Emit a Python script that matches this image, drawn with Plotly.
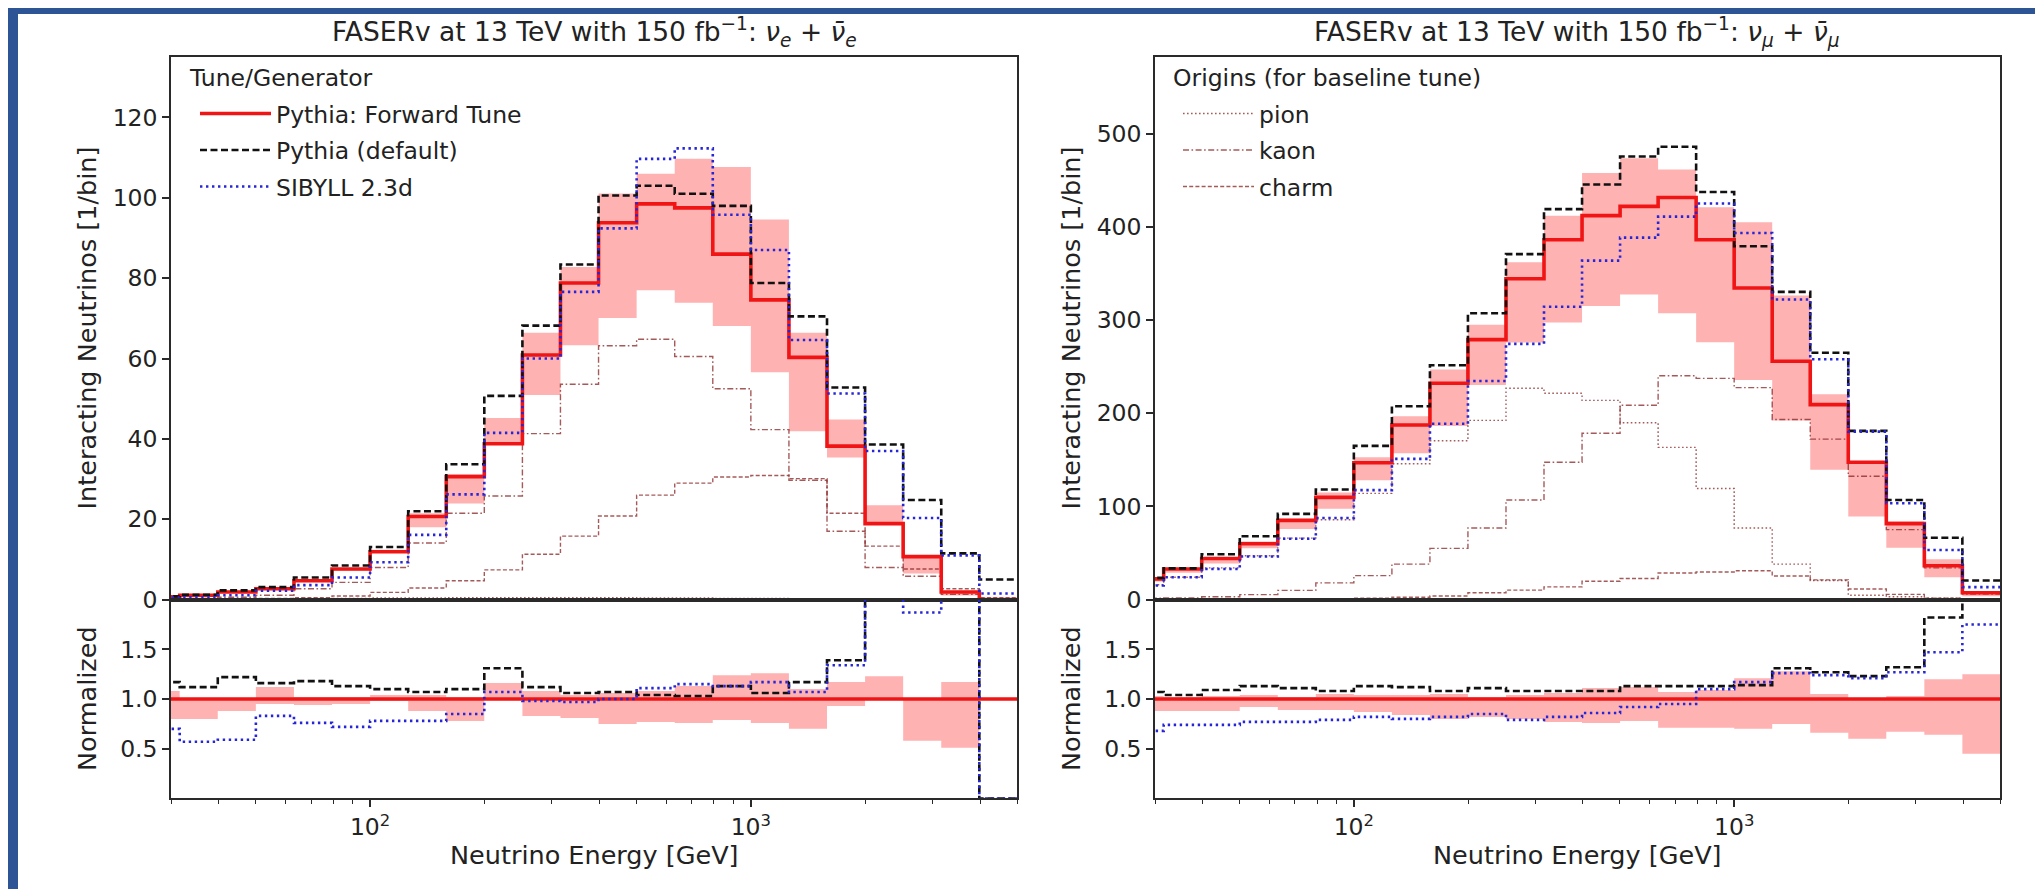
import numpy as np
import plotly.graph_objects as go

W, H = 2043, 895

# ---------------- data ----------------
# bin edges in GeV (10 log bins per decade)
energy_edges = [25.12, 31.62, 39.81, 50.12, 63.10, 79.43, 100.0, 125.9, 158.5, 199.5,
                251.2, 316.2, 398.1, 501.2, 631.0, 794.3, 1000.0, 1258.9, 1584.9, 1995.3,
                2511.9, 3162.3, 3981.1, 5011.9]

# ---- nu_e + nu_e-bar (left panel) ----
fwd_e = [0.7, 1.1, 1.9, 2.7, 4.7, 7.6, 11.9, 20.7, 30.6, 38.8, 60.9, 78.8, 93.8, 98.5, 97.5,
         86.0, 74.6, 60.3, 38.2, 18.9, 10.7, 1.9, 0.0]
default_e = [0.8, 1.2, 2.3, 3.1, 5.5, 8.5, 13.1, 22.0, 33.7, 50.7, 68.2, 83.4, 100.6, 103.0, 101.0,
             98.0, 78.8, 70.5, 52.8, 38.6, 24.8, 11.5, 5.0]
sibyll_e = [0.5, 0.6, 1.1, 2.2, 3.6, 5.5, 9.3, 16.1, 26.2, 41.5, 60.0, 76.6, 92.4, 109.7, 112.3,
            95.8, 87.0, 64.6, 51.3, 37.0, 20.3, 11.0, 1.5]
band_hi_e = [0.75, 1.1, 1.9, 3.0, 4.8, 7.8, 12.4, 21.5, 31.2, 45.2, 66.4, 82.8, 101.1, 106.0, 109.7,
             107.7, 94.6, 66.4, 44.8, 23.5, 10.7, 2.2, 0.0]
band_lo_e = [0.6, 0.9, 1.7, 2.6, 4.4, 7.2, 11.7, 18.0, 23.9, 38.8, 50.9, 63.3, 70.1, 77.0, 73.9,
             68.1, 56.6, 41.9, 35.4, 18.9, 6.5, 1.0, 0.0]
pion_e = [0.1, 0.1, 0.2, 0.2, 0.3, 0.3, 0.4, 0.4, 0.5, 0.5, 0.5, 0.5, 0.5, 0.4, 0.4,
          0.3, 0.3, 0.2, 0.2, 0.1, 0.1, 0.0, 0.0]
kaon_e = [0.2, 0.3, 0.6, 1.1, 2.7, 4.3, 8.0, 14.1, 21.5, 25.8, 41.3, 53.6, 63.2, 64.8, 60.5,
          52.5, 42.3, 29.7, 17.0, 8.0, 5.8, 1.3, 0.0]
charm_e = [0.1, 0.1, 0.2, 0.3, 0.5, 0.9, 1.8, 2.9, 4.7, 7.4, 11.3, 15.8, 20.8, 26.0, 29.0,
           30.5, 30.9, 30.1, 21.5, 13.3, 7.6, 2.7, 0.5]
ratio_default_e = [1.17, 1.12, 1.22, 1.16, 1.18, 1.13, 1.10, 1.07, 1.10, 1.31, 1.12, 1.06, 1.07, 1.04,
                   1.03, 1.13, 1.06, 1.17, 1.39, 2.04, 2.32, 6.05, 0.0]
ratio_sibyll_e = [0.70, 0.57, 0.59, 0.83, 0.76, 0.72, 0.78, 0.78, 0.85, 1.07, 0.98, 0.97, 1.00, 1.11,
                  1.15, 1.13, 1.17, 1.07, 1.34, 2.10, 1.87, 5.80, 0.0]
ratio_band_hi_e = [1.08, 1.00, 1.00, 1.12, 1.02, 1.02, 1.04, 1.04, 1.02, 1.16, 1.08, 1.04, 1.06, 1.08,
                   1.13, 1.24, 1.26, 1.10, 1.17, 1.23, 1.00, 1.17, 1.00]
ratio_band_lo_e = [0.80, 0.80, 0.88, 0.95, 0.94, 0.95, 0.98, 0.88, 0.78, 1.00, 0.83, 0.81, 0.75, 0.77,
                   0.76, 0.79, 0.76, 0.70, 0.93, 1.00, 0.58, 0.51, 1.00]

# ---- nu_mu + nu_mu-bar (right panel) ----
fwd_m = [22.2, 32.8, 44.1, 60.0, 85.0, 109.7, 146.8, 187.3, 232.1, 279.0, 344.3, 386.2, 412.0, 421.9,
         431.4, 386.2, 334.4, 255.7, 209.2, 147.4, 81.5, 36.3, 7.4]
default_m = [23.3, 33.5, 48.7, 68.0, 92.0, 118.2, 165.0, 207.4, 251.5, 307.2, 370.7, 419.0, 445.5, 475.5,
             486.0, 437.4, 379.2, 330.2, 264.9, 181.0, 106.9, 66.3, 20.5]
sibyll_m = [15.2, 24.0, 32.8, 46.2, 65.3, 87.5, 117.5, 151.0, 188.7, 234.6, 274.4, 314.3, 363.7, 388.4,
            411.0, 425.0, 393.3, 322.0, 257.9, 180.2, 103.4, 53.3, 13.4]
band_hi_m = [22.8, 33.5, 45.4, 62.4, 86.7, 115.0, 152.7, 196.8, 247.0, 295.0, 362.0, 412.0, 457.8, 473.7,
             461.4, 421.0, 405.0, 326.3, 220.4, 147.4, 84.0, 43.4, 9.3]
band_lo_m = [19.5, 28.9, 38.8, 55.2, 75.7, 97.6, 128.0, 157.0, 186.2, 230.3, 276.0, 297.4, 315.0, 327.3,
             307.2, 276.2, 235.6, 192.3, 139.3, 89.2, 55.7, 24.0, 3.5]
pion_m = [16.0, 24.0, 34.0, 47.0, 66.0, 85.7, 114.0, 145.7, 170.4, 192.3, 226.8, 221.5, 213.8, 189.8,
          163.3, 119.2, 76.9, 38.1, 20.5, 4.6, 3.0, 1.5, 0.5]
kaon_m = [1.5, 1.8, 3.0, 5.3, 9.9, 18.0, 25.7, 38.1, 55.0, 76.9, 106.9, 147.4, 178.5, 208.5,
          240.2, 237.4, 227.5, 193.3, 172.2, 132.3, 75.1, 34.0, 6.0]
charm_m = [0.4, 0.5, 0.6, 0.8, 0.9, 1.0, 1.5, 2.5, 3.8, 7.4, 10.2, 13.7, 19.7, 22.6,
           28.6, 29.6, 31.0, 25.4, 21.2, 11.3, 5.6, 1.4, 0.5]
ratio_default_m = [1.07, 1.04, 1.09, 1.13, 1.11, 1.08, 1.13, 1.12, 1.08, 1.11, 1.08, 1.08, 1.08, 1.13,
                   1.13, 1.13, 1.14, 1.31, 1.27, 1.23, 1.32, 1.82, 2.77]
ratio_sibyll_m = [0.68, 0.74, 0.74, 0.77, 0.77, 0.79, 0.82, 0.80, 0.82, 0.85, 0.79, 0.82, 0.86, 0.92,
                  0.95, 1.10, 1.17, 1.26, 1.24, 1.21, 1.27, 1.47, 1.75]
ratio_band_hi_m = [1.03, 1.02, 1.03, 1.04, 1.02, 1.05, 1.04, 1.04, 1.05, 1.02, 1.04, 1.06, 1.11, 1.12,
                   1.07, 1.09, 1.21, 1.28, 1.05, 1.00, 1.03, 1.20, 1.25]
ratio_band_lo_m = [0.88, 0.88, 0.88, 0.92, 0.89, 0.89, 0.87, 0.84, 0.80, 0.82, 0.80, 0.77, 0.76, 0.78,
                   0.71, 0.71, 0.70, 0.75, 0.66, 0.60, 0.67, 0.64, 0.45]

titles = ["FASERv at 13 TeV with 150 fb<sup>\u22121</sup>: <i>\u03bd</i><sub><i>e</i></sub> + <i>\u03bd\u0304</i><sub><i>e</i></sub>",
          "FASERv at 13 TeV with 150 fb<sup>\u22121</sup>: <i>\u03bd</i><sub><i>\u03bc</i></sub> + <i>\u03bd\u0304</i><sub><i>\u03bc</i></sub>"]
legend_titles = ["Tune/Generator", "Origins (for baseline tune)"]

# ---------------- styling ----------------
FONT = "DejaVu Sans"
TXT = "#222222"
RED = "#f01414"
BLACK = "#111111"
BLUE = "#2626d8"
COMP = "rgba(135,35,35,0.75)"
BAND = "rgba(255,0,0,0.30)"
AXC = "#2a2a2a"
FS_TICK = 23.5
FS_LEG = 23.5
FS_LAB = 25.5
FS_TITLE = 26.5

fig = go.Figure()


def steps(v):
    return list(v) + [v[-1]]


def add_panel(xm, ym, xr, yr, fwd, dflt, sib, bhi, blo, pion, kaon, charm,
              rdef, rsib, rbhi, rblo, main_legend, comp_legend):
    ones = [v / v if v else 1.0 for v in [1.0] * len(fwd)]
    # uncertainty band (main)
    fig.add_trace(go.Scatter(x=energy_edges, y=steps(blo), xaxis=xm, yaxis=ym, mode="lines",
                             line=dict(width=0, shape="hv"), showlegend=False, hoverinfo="skip"))
    fig.add_trace(go.Scatter(x=energy_edges, y=steps(bhi), xaxis=xm, yaxis=ym, mode="lines",
                             line=dict(width=0, shape="hv"), fill="tonexty", fillcolor=BAND,
                             showlegend=False, hoverinfo="skip"))
    # uncertainty band (ratio)
    fig.add_trace(go.Scatter(x=energy_edges, y=steps(rblo), xaxis=xr, yaxis=yr, mode="lines",
                             line=dict(width=0, shape="hv"), showlegend=False, hoverinfo="skip"))
    fig.add_trace(go.Scatter(x=energy_edges, y=steps(rbhi), xaxis=xr, yaxis=yr, mode="lines",
                             line=dict(width=0, shape="hv"), fill="tonexty", fillcolor=BAND,
                             showlegend=False, hoverinfo="skip"))
    # components
    comps = [("pion", pion, "1.6px,2.4px"), ("kaon", kaon, "6px,2.5px,1.6px,2.5px"),
             ("charm", charm, "4px,2.2px")]
    for name, vals, dash in comps:
        fig.add_trace(go.Scatter(x=energy_edges, y=steps(vals), xaxis=xm, yaxis=ym, mode="lines",
                                 name=name, line=dict(color=COMP, width=1.4, dash=dash, shape="hv"),
                                 showlegend=comp_legend, legend="legend2", legendgroup=name))
    # main histograms
    mains = [("Pythia: Forward Tune", fwd, ones, RED, 3.6, "solid"),
             ("Pythia (default)", dflt, rdef, BLACK, 2.6, "7px,3.5px"),
             ("SIBYLL 2.3d", sib, rsib, BLUE, 2.6, "2.4px,3.6px")]
    for name, vals, rvals, col, w, dash in mains:
        fig.add_trace(go.Scatter(x=energy_edges, y=steps(vals), xaxis=xm, yaxis=ym, mode="lines",
                                 name=name, line=dict(color=col, width=w, dash=dash, shape="hv"),
                                 showlegend=main_legend, legend="legend", legendgroup=name))
        fig.add_trace(go.Scatter(x=energy_edges, y=steps(rvals), xaxis=xr, yaxis=yr, mode="lines",
                                 line=dict(color=col, width=w, dash=dash, shape="hv"),
                                 showlegend=False, hoverinfo="skip"))


add_panel("x", "y", "x2", "y2", fwd_e, default_e, sibyll_e, band_hi_e, band_lo_e, pion_e, kaon_e,
          charm_e, ratio_default_e, ratio_sibyll_e, ratio_band_hi_e, ratio_band_lo_e, True, False)
add_panel("x3", "y3", "x4", "y4", fwd_m, default_m, sibyll_m, band_hi_m, band_lo_m, pion_m, kaon_m,
          charm_m, ratio_default_m, ratio_sibyll_m, ratio_band_hi_m, ratio_band_lo_m, False, True)

# ---------------- layout ----------------
LX = [163 / W, 1009 / W]
RX = [1147 / W, 1992 / W]
MAIN_Y = [1 - 601 / H, 1 - 50 / H]
RAT_Y = [1 - 803 / H, 1 - 601 / H]
XR = [np.log10(30), np.log10(5000)]

common = dict(showline=True, mirror=True, linecolor=AXC, linewidth=1.6, showgrid=False,
              zeroline=False, tickfont=dict(family=FONT, size=FS_TICK, color=TXT))
ytick = dict(ticks="outside", ticklen=7, tickwidth=1.5, tickcolor=AXC)
minor_vals = [30, 40, 50, 60, 70, 80, 90, 200, 300, 400, 500, 600, 700, 800, 900,
              2000, 3000, 4000, 5000]


def xmain(domain, anchor):
    return dict(domain=domain, anchor=anchor, type="log", range=XR, showticklabels=False,
                ticks="", **common)


def xratio(domain, anchor, match):
    return dict(domain=domain, anchor=anchor, type="log", range=XR, matches=match,
                tickmode="array", tickvals=[100, 1000],
                ticktext=["10<sup>2</sup>", "10<sup>3</sup>"], ticks="outside", ticklen=7,
                tickwidth=1.5, tickcolor=AXC,
                minor=dict(tickmode="array", tickvals=minor_vals, ticks="outside", ticklen=4,
                           tickwidth=1.2, tickcolor=AXC, showgrid=False),
                **common)


leg_common = dict(xanchor="left", yanchor="top", bgcolor="rgba(0,0,0,0)",
                  font=dict(family=FONT, size=FS_LEG, color=TXT),
                  tracegroupgap=3, itemwidth=71, indentation=18)

fig.update_layout(
    width=W, height=H, autosize=False,
    margin=dict(l=0, r=0, t=0, b=0),
    paper_bgcolor="white", plot_bgcolor="white",
    font=dict(family=FONT, size=FS_TICK, color=TXT),
    xaxis=xmain(LX, "y"),
    yaxis=dict(domain=MAIN_Y, anchor="x", range=[0, 135], tickmode="array",
               tickvals=[0, 20, 40, 60, 80, 100, 120], **ytick, **common),
    xaxis2=xratio(LX, "y2", "x"),
    yaxis2=dict(domain=RAT_Y, anchor="x2", range=[0, 2], tickmode="array",
                tickvals=[0.5, 1.0, 1.5], ticktext=["0.5", "1.0", "1.5"], **ytick, **common),
    xaxis3=xmain(RX, "y3"),
    yaxis3=dict(domain=MAIN_Y, anchor="x3", range=[0, 582], tickmode="array",
                tickvals=[0, 100, 200, 300, 400, 500], **ytick, **common),
    xaxis4=xratio(RX, "y4", "x3"),
    yaxis4=dict(domain=RAT_Y, anchor="x4", range=[0, 2], tickmode="array",
                tickvals=[0.5, 1.0, 1.5], ticktext=["0.5", "1.0", "1.5"], **ytick, **common),
    legend=dict(x=169 / W, y=1 - 85 / H, **leg_common),
    legend2=dict(x=1152 / W, y=1 - 85 / H, **leg_common),
    showlegend=True,
)

# blue page border
fig.add_shape(type="rect", xref="paper", yref="paper", x0=0, x1=10 / W, y0=0, y1=1,
              fillcolor="#2d5595", line=dict(width=0), layer="above")
fig.add_shape(type="rect", xref="paper", yref="paper", x0=0, x1=1, y0=1 - 6 / H, y1=1,
              fillcolor="#2d5595", line=dict(width=0), layer="above")

# titles and axis labels
ann = []
for i, dom in enumerate([LX, RX]):
    cx = (dom[0] + dom[1]) / 2
    ann.append(dict(text=titles[i], x=cx, y=1 - 24 / H, xref="paper", yref="paper",
                    xanchor="center", yanchor="middle", showarrow=False,
                    font=dict(family=FONT, size=FS_TITLE, color=TXT)))
    ann.append(dict(text=legend_titles[i], x=dom[0] + 16 / W, y=1 - 71 / H, xref="paper",
                    yref="paper", xanchor="left", yanchor="middle", showarrow=False,
                    font=dict(family=FONT, size=FS_LEG, color=TXT)))
    ann.append(dict(text="Neutrino Energy [GeV]", x=cx, y=1 - 860 / H, xref="paper", yref="paper",
                    xanchor="center", yanchor="middle", showarrow=False,
                    font=dict(family=FONT, size=FS_LAB, color=TXT)))
    lx = dom[0] - 84 / W
    ann.append(dict(text="Interacting Neutrinos [1/bin]", x=lx, y=1 - 325.5 / H, xref="paper",
                    yref="paper", xanchor="center", yanchor="middle", textangle=-90,
                    showarrow=False, font=dict(family=FONT, size=FS_LAB, color=TXT)))
    ann.append(dict(text="Normalized", x=lx, y=1 - 702 / H, xref="paper", yref="paper",
                    xanchor="center", yanchor="middle", textangle=-90, showarrow=False,
                    font=dict(family=FONT, size=FS_LAB, color=TXT)))
fig.update_layout(annotations=ann)

fig.write_html("out.html")
